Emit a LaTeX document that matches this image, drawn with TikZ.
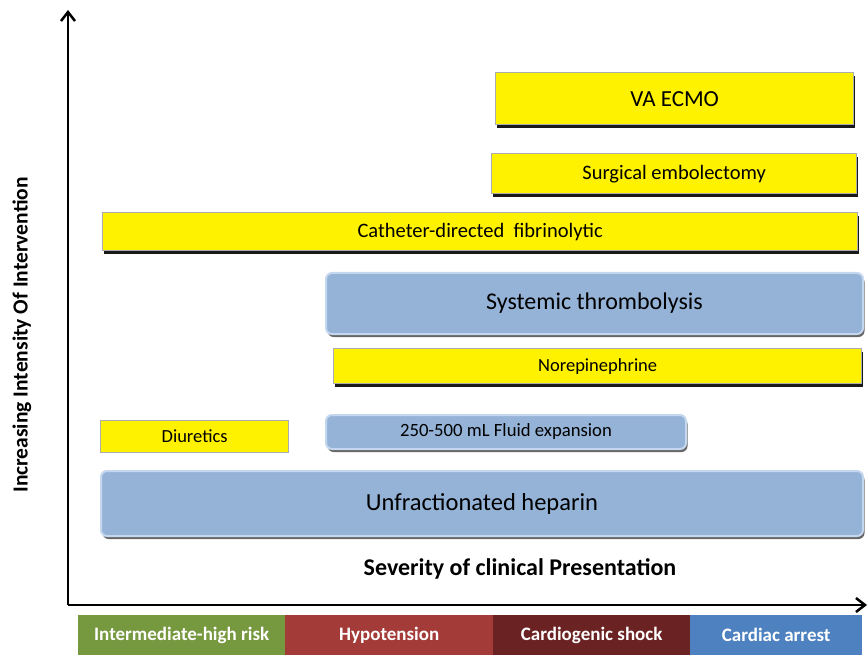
\documentclass[tikz,border=0pt]{standalone}
\usepackage{fontspec}
\setmainfont{Carlito}
\usepackage{xcolor}
\usetikzlibrary{arrows.meta,shadows}
\definecolor{boxblue}{HTML}{95B3D7}
\definecolor{boxrim}{HTML}{C5D7EE}
\definecolor{riskgreen}{HTML}{76983F}
\definecolor{hypored}{HTML}{A33B39}
\definecolor{shockred}{HTML}{6A2322}
\definecolor{arrestblue}{HTML}{4E81BF}
\begin{document}
\begin{tikzpicture}[x=1pt,y=-1pt,
  yellowbox/.style={draw=gray!65,line width=1.3pt,fill=yellow,inner sep=0pt,anchor=north west,
    font=\fontsize{19}{22}\selectfont},
  shadowed/.style={drop shadow={shadow xshift=1.5pt,shadow yshift=-3pt,fill=black,opacity=0.9}},
  bluebox/.style={draw=boxrim,line width=2pt,fill=boxblue,rounded corners=6pt,inner sep=0pt,anchor=north west,
    drop shadow={shadow xshift=1.5pt,shadow yshift=-3pt,fill=black!75,opacity=0.8}},
  catbox/.style={inner sep=0pt,anchor=north west,minimum height=40,text=white,
    font=\bfseries\fontsize{19}{22}\selectfont}]
\useasboundingbox (0,0) rectangle (868,655);
% axes
\coordinate (origin) at (68,605);
\coordinate (ytop) at (68,10);
\coordinate (xend) at (867,605);
\draw[line width=2.5pt,-{Straight Barb[length=9pt,width=14pt]}](origin)--(ytop);
\draw[line width=2.5pt,-{Straight Barb[length=9pt,width=14pt]}](origin)--(xend);
\node[rotate=90,font=\bfseries\fontsize{21.5}{24}\selectfont] (ylab) at (22,335){Increasing Intensity Of Intervention};
\node[font=\bfseries\fontsize{24}{28}\selectfont] (xlab) at (520,569){Severity of clinical Presentation};
% yellow boxes
\node[yellowbox,shadowed,minimum width=358,minimum height=52,font=\fontsize{23}{26}\selectfont] (ecmo) at (495,72){VA ECMO};
\node[yellowbox,shadowed,minimum width=365,minimum height=40,font=\fontsize{20.5}{24}\selectfont] (surg) at (491,153){Surgical embolectomy};
\node[yellowbox,shadowed,minimum width=755,minimum height=38,font=\fontsize{20.5}{24}\selectfont] (cdt) at (102,212){Catheter-directed\ \ fibrinolytic};
\node[yellowbox,shadowed,minimum width=528,minimum height=35,font=\fontsize{18.5}{22}\selectfont] (norepi) at (333,348){Norepinephrine};
\node[yellowbox,minimum width=188,minimum height=32,font=\fontsize{18.5}{22}\selectfont] (diur) at (100,420){Diuretics};
% blue boxes
\node[bluebox,minimum width=537,minimum height=61,font=\fontsize{24}{28}\selectfont] (thromb) at (325,272){Systemic thrombolysis};
\node[bluebox,minimum width=360,minimum height=34,font=\fontsize{18.7}{22}\selectfont] (fluid) at (325,414){250-500 mL Fluid expansion};
\node[bluebox,minimum width=762,minimum height=65,font=\fontsize{24.5}{28}\selectfont] (ufh) at (100,470){Unfractionated heparin};
% severity categories
\node[catbox,fill=riskgreen,minimum width=207] (risk) at (78,615){Intermediate-high risk};
\node[catbox,fill=hypored,minimum width=208] (hypo) at (285,615){Hypotension};
\node[catbox,fill=shockred,minimum width=197] (shock) at (493,615){Cardiogenic shock};
\node[catbox,fill=arrestblue,minimum width=172] (arrest) at (690,615){Cardiac arrest};
\end{tikzpicture}
\end{document}
